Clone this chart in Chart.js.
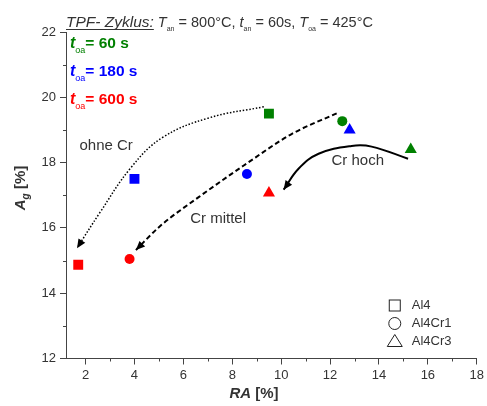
<!DOCTYPE html>
<html>
<head>
<meta charset="utf-8">
<script src="https://cdn.jsdelivr.net/npm/chart.js@4.4.1/dist/chart.umd.min.js"></script>
<style>
  html, body { margin: 0; padding: 0; background: #fff; }
  #chart { display: block; }
</style>
</head>
<body>
<canvas id="chart" width="487" height="406"></canvas>
<script>
// hold times (t_oa) – one colour per time, same order in every alloy array
const holdTimes = ['60 s', '180 s', '600 s'];
const alloys = ['Al4', 'Al4Cr1', 'Al4Cr3'];

const al4RA = [9.5, 4.0, 1.7];
const al4Ag = [19.5, 17.5, 14.87];
const al4Cr1RA = [12.5, 8.6, 3.8];
const al4Cr1Ag = [19.27, 17.65, 15.05];
const al4Cr3RA = [15.3, 12.8, 9.5];
const al4Cr3Ag = [18.4, 19.0, 17.07];

// trend arrows
const ohneCrRA = [9.29, 7.05, 5.15, 3.86, 2.57, 1.65];
const ohneCrAg = [19.71, 19.37, 18.77, 17.85, 16.45, 15.38];
const crMittelRA = [12.27, 10.44, 8.47, 6.64, 5.01, 4.06];
const crMittelAg = [19.51, 18.88, 17.91, 16.95, 16.03, 15.32];
const crHochRA = [15.19, 13.7, 12.88, 11.53, 10.71, 10.1];
const crHochAg = [18.12, 18.49, 18.51, 18.27, 17.81, 17.17];

const xTicks = [2, 3, 4, 5, 6, 7, 8, 9, 10, 11, 12, 13, 14, 15, 16, 17, 18];
const yTicks = [12, 13, 14, 15, 16, 17, 18, 19, 20, 21, 22];

const timeColors = ['#008000', '#0000ff', '#ff0000'];
const FONT = "'Liberation Sans', Arial, sans-serif";
const TEXT = '#333333';
const AXIS = '#444444';

function toPoints(xs, ys) {
  return xs.map((x, i) => ({ x, y: ys[i] }));
}

function markerSet(label, xs, ys, style, radius) {
  return {
    label,
    data: toPoints(xs, ys),
    pointStyle: style,
    pointRadius: radius,
    pointBackgroundColor: timeColors,
    pointBorderWidth: 0,
    showLine: false,
  };
}

function arrowSet(label, xs, ys, dash, width, mode) {
  return {
    label,
    data: toPoints(xs, ys),
    showLine: true,
    borderColor: '#000',
    borderWidth: width,
    borderDash: dash,
    tension: 0.4,
    cubicInterpolationMode: mode,
    pointRadius: 0,
    arrow: true,
  };
}

function measureParts(ctx, parts) {
  let w = 0;
  parts.forEach(function (p) {
    ctx.font = p.font + ' ' + FONT;
    w += ctx.measureText(p.text).width;
  });
  return w;
}

function drawParts(ctx, x, y, parts, color) {
  let cx = x;
  parts.forEach(function (p) {
    ctx.font = p.font + ' ' + FONT;
    ctx.fillStyle = p.color || color || TEXT;
    const w = ctx.measureText(p.text).width;
    ctx.fillText(p.text, cx, y + (p.dy || 0));
    if (p.underline) {
      ctx.fillRect(cx, y + 2, w, 1);
    }
    cx += w;
  });
}

const decorPlugin = {
  id: 'decor',
  afterDatasetsDraw(chart) {
    const ctx = chart.ctx;
    const xs = chart.scales.x;
    const ys = chart.scales.y;
    const area = chart.chartArea;

    ctx.save();

    // arrow heads at the end of each trend line
    chart.data.datasets.forEach(function (ds, i) {
      if (!ds.arrow) {
        return;
      }
      const pts = chart.getDatasetMeta(i).data;
      const end = pts[pts.length - 1];
      const prev = pts[pts.length - 2];
      const fx = end.cp1x !== undefined ? end.cp1x : prev.x;
      const fy = end.cp1y !== undefined ? end.cp1y : prev.y;
      const ang = Math.atan2(end.y - fy, end.x - fx);
      const len = 9;
      const half = 4;
      ctx.fillStyle = '#000';
      ctx.beginPath();
      ctx.moveTo(end.x, end.y);
      ctx.lineTo(end.x - len * Math.cos(ang) + half * Math.sin(ang), end.y - len * Math.sin(ang) - half * Math.cos(ang));
      ctx.lineTo(end.x - len * Math.cos(ang) - half * Math.sin(ang), end.y - len * Math.sin(ang) + half * Math.cos(ang));
      ctx.closePath();
      ctx.fill();
    });

    // minor tick marks
    ctx.strokeStyle = AXIS;
    ctx.lineWidth = 1;
    ctx.beginPath();
    xTicks.forEach(function (v) {
      if (v % 2 !== 0) {
        const px = Math.round(xs.getPixelForValue(v)) + 0.5;
        ctx.moveTo(px, area.bottom);
        ctx.lineTo(px, area.bottom + 3);
      }
    });
    yTicks.forEach(function (v) {
      if (v % 2 !== 0) {
        const py = Math.round(ys.getPixelForValue(v)) + 0.5;
        ctx.moveTo(area.left, py);
        ctx.lineTo(area.left - 3, py);
      }
    });
    ctx.stroke();

    // trend labels
    ctx.textBaseline = 'middle';
    ctx.textAlign = 'left';
    ctx.fillStyle = TEXT;
    ctx.font = '15px ' + FONT;
    ctx.fillText('ohne Cr', xs.getPixelForValue(1.75), ys.getPixelForValue(18.52));
    ctx.fillText('Cr mittel', xs.getPixelForValue(6.28), ys.getPixelForValue(16.27));
    ctx.fillText('Cr hoch', xs.getPixelForValue(12.06), ys.getPixelForValue(18.04));

    // heading
    ctx.textBaseline = 'alphabetic';
    drawParts(ctx, area.left, 27, [
      { text: 'TPF- Zyklus:', font: 'italic 15.5px', underline: true },
      { text: ' T', font: 'italic 14.5px' },
      { text: 'an', font: '7px', dy: 4 },
      { text: ' = 800°C, ', font: '14.5px' },
      { text: 't', font: 'italic 14.5px' },
      { text: 'an', font: '7px', dy: 4 },
      { text: ' = 60s, ', font: '14.5px' },
      { text: 'T', font: 'italic 14.5px' },
      { text: 'oa', font: '7px', dy: 4 },
      { text: ' = 425°C', font: '14.5px' },
    ]);

    // hold time key
    holdTimes.forEach(function (t, i) {
      drawParts(ctx, area.left + 4, 48 + i * 28, [
        { text: 't', font: 'italic bold 16px' },
        { text: 'oa', font: '9px', dy: 5 },
        { text: '= ' + t, font: 'bold 15.5px' },
      ], timeColors[i]);
    });

    // alloy key (hollow symbols)
    const kx = area.right - 82;
    const ky = area.bottom - 53;
    ctx.strokeStyle = '#222';
    ctx.lineWidth = 1;
    ctx.strokeRect(kx - 5.5, ky - 5.5, 11, 11);
    ctx.beginPath();
    ctx.arc(kx, ky + 18, 6, 0, Math.PI * 2);
    ctx.stroke();
    ctx.beginPath();
    ctx.moveTo(kx, ky + 29);
    ctx.lineTo(kx + 7.5, ky + 41);
    ctx.lineTo(kx - 7.5, ky + 41);
    ctx.closePath();
    ctx.stroke();
    ctx.font = '13px ' + FONT;
    ctx.fillStyle = TEXT;
    ctx.textBaseline = 'middle';
    alloys.forEach(function (a, i) {
      ctx.fillText(a, kx + 17, ky + i * 18);
    });

    // axis titles
    ctx.textBaseline = 'alphabetic';
    const xParts = [
      { text: 'RA', font: 'italic bold 15px' },
      { text: ' [%]', font: 'bold 15px' },
    ];
    drawParts(ctx, area.left + 188 - measureParts(ctx, xParts) / 2, 398, xParts);

    const yParts = [
      { text: 'A', font: 'italic bold 15px' },
      { text: 'g', font: 'italic bold 10px', dy: 4 },
      { text: ' [%]', font: 'bold 15px' },
    ];
    ctx.translate(25, 188);
    ctx.rotate(-Math.PI / 2);
    drawParts(ctx, -measureParts(ctx, yParts) / 2, 0, yParts);

    ctx.restore();
  },
};

function tickColor(c) {
  return c.tick && c.tick.value % 2 === 0 ? AXIS : 'rgba(0,0,0,0)';
}

new Chart(document.getElementById('chart'), {
  type: 'scatter',
  data: {
    datasets: [
      markerSet('Al4', al4RA, al4Ag, 'rect', 7),
      markerSet('Al4Cr1', al4Cr1RA, al4Cr1Ag, 'circle', 5),
      markerSet('Al4Cr3', al4Cr3RA, al4Cr3Ag, 'triangle', 7),
      arrowSet('ohne Cr', ohneCrRA, ohneCrAg, [1.5, 1.8], 1.5, 'default'),
      arrowSet('Cr mittel', crMittelRA, crMittelAg, [5, 3], 2, 'monotone'),
      arrowSet('Cr hoch', crHochRA, crHochAg, [], 2, 'default'),
    ],
  },
  options: {
    responsive: false,
    devicePixelRatio: 1,
    animation: false,
    layout: {
      padding: { top: 32, right: 8, left: 0, bottom: 0 },
    },
    plugins: {
      legend: { display: false },
      tooltip: { enabled: false },
    },
    scales: {
      x: {
        type: 'linear',
        min: 1.2,
        max: 18,
        afterBuildTicks(scale) {
          scale.ticks = xTicks.map((v) => ({ value: v }));
        },
        afterFit(scale) {
          scale.height = 47.5;
        },
        ticks: {
          autoSkip: false,
          maxRotation: 0,
          padding: 3,
          color: TEXT,
          font: { family: FONT, size: 13 },
          callback: (v) => (v % 2 === 0 ? v : ''),
        },
        grid: {
          drawOnChartArea: false,
          drawTicks: true,
          tickLength: 6,
          tickColor: tickColor,
        },
        border: { display: true, color: AXIS, width: 1 },
      },
      y: {
        type: 'linear',
        min: 12,
        max: 22,
        afterBuildTicks(scale) {
          scale.ticks = yTicks.map((v) => ({ value: v }));
        },
        afterFit(scale) {
          scale.width = 66;
        },
        ticks: {
          autoSkip: false,
          padding: 4,
          color: TEXT,
          font: { family: FONT, size: 13 },
          callback: (v) => (v % 2 === 0 ? v : ''),
        },
        grid: {
          drawOnChartArea: false,
          drawTicks: true,
          tickLength: 6,
          tickColor: tickColor,
        },
        border: { display: true, color: AXIS, width: 1 },
      },
    },
  },
  plugins: [decorPlugin],
});
</script>
</body>
</html>
